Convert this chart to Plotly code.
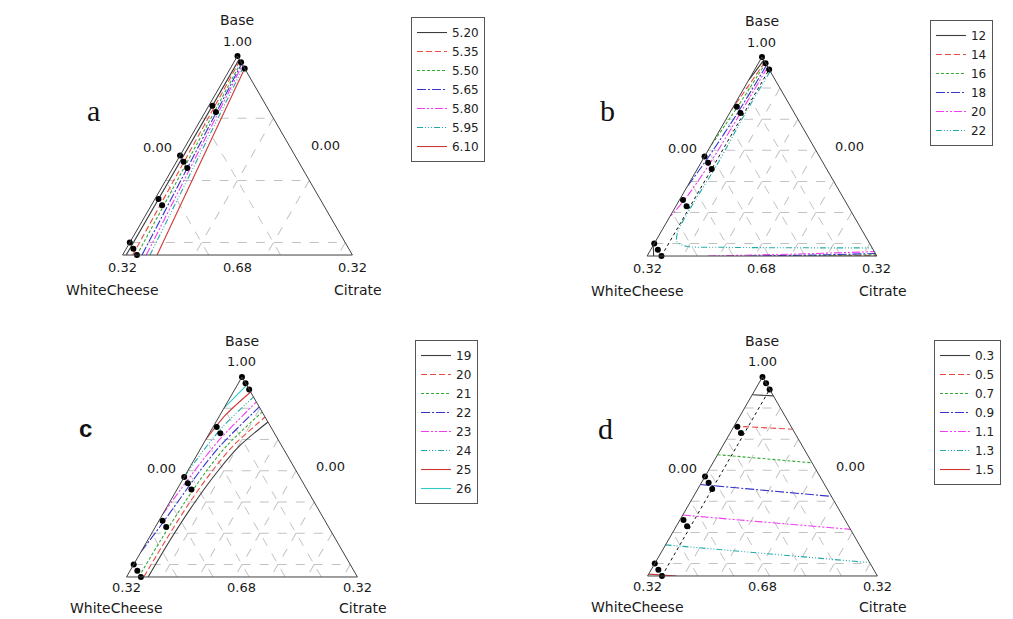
import math
import plotly.graph_objects as go

FIG_W, FIG_H = 1013, 619

# ---------------- data (pseudo-component mixture: Base + WhiteCheese + Citrate = 1) ----------------
DESIGN_BASE = [1.00, 0.99, 0.98, 0.92, 0.91, 0.84, 0.83, 0.82, 0.77, 0.76, 0.70, 0.69, 0.68]
DESIGN_WHITECHEESE = [0.00, 0.00, 0.00, 0.075, 0.075, 0.16, 0.16, 0.16, 0.225, 0.225, 0.30, 0.30, 0.30]
DESIGN_CITRATE = [0.00, 0.01, 0.02, 0.005, 0.015, 0.00, 0.01, 0.02, 0.005, 0.015, 0.00, 0.01, 0.02]

CONSTRAINT_BASE = [0.68, 0.98]
CONSTRAINT_CITRATE = [0.02, 0.02]

# panel a
A_LEVELS = ["5.20", "5.35", "5.50", "5.65", "5.80", "5.95", "6.10"]
A_SEG_LEVEL = [0, 1, 2, 3, 4, 5, 6]
A_SEG_BASE = [[0.68, 0.995], [0.68, 0.993], [0.68, 0.990], [0.68, 0.988],
              [0.68, 0.986], [0.68, 0.983], [0.68, 0.980]]
A_SEG_CIT = [[0.005, 0.005], [0.014, 0.007], [0.020, 0.010], [0.027, 0.012],
             [0.033, 0.014], [0.038, 0.017], [0.048, 0.020]]

# panel b
B_LEVELS = ["12", "14", "16", "18", "20", "22"]
B_SEG_LEVEL = [0, 0, 1, 1, 2, 2, 3, 3, 4, 4, 5]
B_SEG_BASE = [[0.995, 0.975, 0.963], [0.697, 0.688, 0.68],
              [0.992, 0.95, 0.915], [0.68, 0.681],
              [0.99, 0.92, 0.855], [0.68, 0.682],
              [0.987, 0.91, 0.84, 0.79], [0.68, 0.682, 0.684],
              [0.984, 0.91, 0.83, 0.77, 0.742], [0.68, 0.683, 0.687],
              [0.977, 0.91, 0.83, 0.76, 0.72, 0.703, 0.696, 0.694, 0.693]]
B_SEG_CIT = [[0.005, 0.002, 0.0], [0.0, 0.005, 0.009],
             [0.008, 0.004, 0.0], [0.24, 0.319],
             [0.01, 0.006, 0.0], [0.19, 0.318],
             [0.013, 0.011, 0.006, 0.0], [0.14, 0.25, 0.316],
             [0.016, 0.015, 0.013, 0.007, 0.0], [0.085, 0.2, 0.313],
             [0.023, 0.022, 0.024, 0.022, 0.023, 0.03, 0.045, 0.10, 0.307]]

# panel c
C_LEVELS = ["19", "20", "21", "22", "23", "24", "25", "26"]
C_SEG_LEVEL = [0, 1, 2, 3, 4, 5, 6, 7]
C_SEG_BASE = [[0.68, 0.74, 0.80, 0.85, 0.89, 0.928],
              [0.68, 0.74, 0.80, 0.85, 0.89, 0.936],
              [0.68, 0.74, 0.80, 0.85, 0.89, 0.944],
              [0.72, 0.76, 0.80, 0.85, 0.89, 0.952],
              [0.78, 0.82, 0.86, 0.90, 0.96],
              [0.84, 0.88, 0.92, 0.968],
              [0.90, 0.94, 0.976],
              [0.95, 0.987]]
C_SEG_CIT = [[0.030, 0.031, 0.035, 0.042, 0.052, 0.072],
             [0.024, 0.025, 0.028, 0.034, 0.043, 0.064],
             [0.017, 0.018, 0.021, 0.026, 0.034, 0.056],
             [0.0, 0.006, 0.011, 0.017, 0.025, 0.048],
             [0.0, 0.005, 0.011, 0.019, 0.040],
             [0.0, 0.005, 0.013, 0.032],
             [0.0, 0.008, 0.024],
             [0.0, 0.013]]

# panel d
D_LEVELS = ["0.3", "0.5", "0.7", "0.9", "1.1", "1.3", "1.5"]
D_SEG_LEVEL = [0, 1, 2, 3, 4, 5, 6]
D_SEG_BASE = [[0.9715, 0.9696], [0.921, 0.916], [0.875, 0.862], [0.827, 0.808],
              [0.778, 0.767, 0.755], [0.730, 0.7015], [0.683, 0.68]]
D_SEG_CIT = [[0.0, 0.0304], [0.0, 0.084], [0.0, 0.138], [0.0, 0.192],
             [0.0, 0.115, 0.245], [0.0, 0.2985], [0.0, 0.04]]

# ---------------- styles ----------------
LINE_COLORS = ["#3c3c3c", "#ec4a44", "#33aa33", "#3434cc", "#f23cf2", "#22aaaa", "#d03838", "#30c8c8"]
LINE_DASHES = ["solid", "6px,3px", "3px,2px", "9px,2px,2px,2px",
               "8px,2px,2px,2px,2px,2px", "6px,2px,1px,2px,1px,2px,1px,2px", "solid", "solid"]

PANELS = [
    dict(sub="ternary", legend="legend", letter="a", letter_font="Liberation Serif",
         levels=A_LEVELS, seg_level=A_SEG_LEVEL, seg_base=A_SEG_BASE, seg_cit=A_SEG_CIT,
         dtick=0.1, constraint=False, shape="linear",
         dom=dict(x=[0.0864, 0.3825], y=[0.588, 0.9095]),
         leg=(0.4057, 0.9725), let=(93, 110), top_row=True),
    dict(sub="ternary2", legend="legend2", letter="b", letter_font="Liberation Serif",
         levels=B_LEVELS, seg_level=B_SEG_LEVEL, seg_base=B_SEG_BASE, seg_cit=B_SEG_CIT,
         dtick=0.05, constraint=True, shape="spline",
         dom=dict(x=[0.6041, 0.9003], y=[0.5864, 0.9079]),
         leg=(0.918, 0.9677), let=(607, 110), top_row=True),
    dict(sub="ternary3", legend="legend3", letter="<b>c</b>", letter_font="Liberation Sans",
         levels=C_LEVELS, seg_level=C_SEG_LEVEL, seg_base=C_SEG_BASE, seg_cit=C_SEG_CIT,
         dtick=0.05, constraint=False, shape="spline",
         dom=dict(x=[0.0908, 0.3869], y=[0.0679, 0.391]),
         leg=(0.4097, 0.4507), let=(85, 428), top_row=False),
    dict(sub="ternary4", legend="legend4", letter="d", letter_font="Liberation Serif",
         levels=D_LEVELS, seg_level=D_SEG_LEVEL, seg_base=D_SEG_BASE, seg_cit=D_SEG_CIT,
         dtick=0.05, constraint=True, shape="linear",
         dom=dict(x=[0.6046, 0.9008], y=[0.0695, 0.391]),
         leg=(0.922, 0.4507), let=(605, 428), top_row=False),
]


def remainder(base, cit):
    return [max(0.0, round(1 - b - c, 6)) for b, c in zip(base, cit)]


fig = go.Figure()
annotations = []
layout_extra = {}

for p in PANELS:
    sub = p["sub"]
    # constraint (dotted) line
    if p["constraint"]:
        fig.add_trace(go.Scatterternary(
            a=CONSTRAINT_BASE, b=remainder(CONSTRAINT_BASE, CONSTRAINT_CITRATE), c=CONSTRAINT_CITRATE,
            mode="lines", line=dict(color="#111111", width=1, dash="dot"),
            subplot=sub, showlegend=False, hoverinfo="skip"))
    # contour lines
    shown = set()
    for lvl, base, cit in zip(p["seg_level"], p["seg_base"], p["seg_cit"]):
        fig.add_trace(go.Scatterternary(
            a=base, b=remainder(base, cit), c=cit,
            mode="lines", name=p["levels"][lvl],
            line=dict(color=LINE_COLORS[lvl], width=1.1, dash=LINE_DASHES[lvl],
                      shape=p["shape"], smoothing=0.8),
            subplot=sub, legend=p["legend"], legendgroup=sub + str(lvl),
            showlegend=lvl not in shown, cliponaxis=True))
        shown.add(lvl)
    # design points
    fig.add_trace(go.Scatterternary(
        a=DESIGN_BASE, b=DESIGN_WHITECHEESE, c=DESIGN_CITRATE,
        mode="markers", marker=dict(color="black", size=6),
        subplot=sub, showlegend=False, cliponaxis=False))

    def axis(mn):
        return dict(min=mn, tick0=0, dtick=p["dtick"], showticklabels=False, ticks="",
                    showgrid=True, gridcolor="#c2c2c2", griddash="dash", gridwidth=1,
                    showline=True, linecolor="#404040", linewidth=1, title=dict(text=""))

    layout_extra[sub] = dict(domain=p["dom"], sum=1, bgcolor="white",
                             aaxis=axis(0.68), baxis=axis(0.0), caxis=axis(0.0))
    layout_extra[p["legend"]] = dict(
        x=p["leg"][0], y=p["leg"][1], xanchor="left", yanchor="top",
        bordercolor="#555555", borderwidth=1, bgcolor="white",
        font=dict(family="DejaVu Sans", size=12, color="#222222"), traceorder="normal")

    # triangle geometry (same rule plotly uses to keep the ternary equilateral)
    x0, x1 = p["dom"]["x"]
    y0, y1 = p["dom"]["y"]
    wmax, hmax = (x1 - x0) * FIG_W, (y1 - y0) * FIG_H
    ratio = 2 / math.sqrt(3)
    if wmax > ratio * hmax:
        h = hmax
        w = h * ratio
    else:
        w = wmax
        h = w / ratio
    cx, cy = (x0 + x1) / 2, (y0 + y1) / 2
    top, bot = cy + h / 2 / FIG_H, cy - h / 2 / FIG_H
    hw = w / 2
    lab1 = -12 if p["top_row"] else -11
    lab2 = -35 if p["top_row"] else -31

    def ann(text, x, y, xs=0, ys=0, size=13, xanchor="center", family="DejaVu Sans"):
        annotations.append(dict(text=text, x=x, y=y, xref="paper", yref="paper",
                                xshift=xs, yshift=ys, showarrow=False, xanchor=xanchor,
                                yanchor="middle", font=dict(family=family, size=size, color="#1a1a1a")))

    ann("Base", cx, top, ys=36, size=14)
    ann("1.00", cx, top, ys=15)
    ann("0.32", cx, bot, xs=-hw, ys=lab1)
    ann("0.68", cx, bot, ys=lab1)
    ann("0.32", cx, bot, xs=hw, ys=lab1)
    ann("WhiteCheese", cx, bot, xs=-hw - 10, ys=lab2, size=14)
    ann("Citrate", cx, bot, xs=hw + 6, ys=lab2, size=14)
    ann("0.00", cx, cy, xs=-hw / 2 - 6, ys=8, xanchor="right")
    ann("0.00", cx, cy, xs=hw / 2 + 14, ys=10, xanchor="left")
    annotations.append(dict(text=p["letter"], x=p["let"][0] / FIG_W, y=1 - p["let"][1] / FIG_H,
                            xref="paper", yref="paper", showarrow=False, xanchor="center",
                            yanchor="middle",
                            font=dict(family=p["letter_font"], size=30 if p["sub"] != "ternary3" else 24,
                                      color="#111111")))

fig.update_layout(
    width=FIG_W, height=FIG_H,
    margin=dict(l=0, r=0, t=0, b=0),
    paper_bgcolor="white", plot_bgcolor="white",
    font=dict(family="DejaVu Sans", size=12, color="#1a1a1a"),
    showlegend=True,
    annotations=annotations,
    **layout_extra,
)

fig.write_html("out.html", config={"displayModeBar": False},
               post_script="document.body.style.margin='0';")
